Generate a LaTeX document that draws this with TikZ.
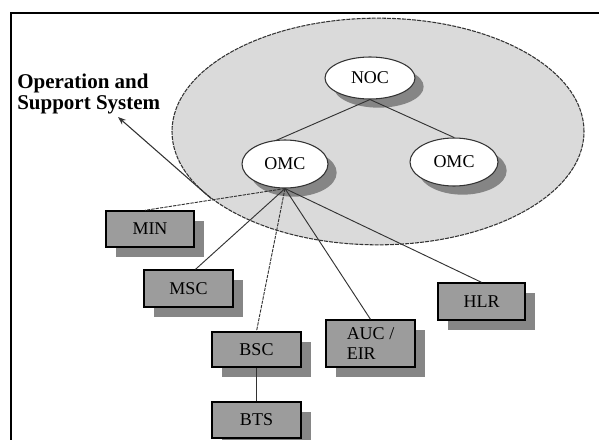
\documentclass[tikz,border=0pt]{standalone}
\usepackage{fontspec}
\setmainfont{Liberation Serif}
\usetikzlibrary{shapes.geometric,shadows,calc,arrows.meta}
\definecolor{ovalgray}{HTML}{DADADA}
\definecolor{boxgray}{HTML}{9C9C9C}
\definecolor{boxshadow}{HTML}{868686}
\definecolor{ellshadow}{HTML}{858585}
\definecolor{linegray}{HTML}{333333}
\begin{document}
\begin{tikzpicture}[x=0.75pt,y=-0.75pt,
  bigoval/.style={ellipse, draw=linegray, line width=0.8pt, dash pattern=on 3pt off 0.8pt, fill=ovalgray, inner sep=0},
  oval/.style={ellipse, draw=linegray, line width=0.8pt, fill=white, inner sep=0,
    font=\fontsize{13.5}{15}\selectfont,
    drop shadow={shadow xshift=6.5pt, shadow yshift=-6.5pt, fill=ellshadow, opacity=1}},
  box/.style={rectangle, draw=black, line width=1pt, fill=boxgray, inner sep=0,
    font=\fontsize{13.5}{15}\selectfont,
    drop shadow={shadow xshift=7.5pt, shadow yshift=-7.5pt, fill=boxshadow, opacity=1}},
  link/.style={draw=linegray, line width=0.7pt},
  dlink/.style={draw=linegray, line width=0.7pt, dash pattern=on 2.5pt off 0.8pt}]
\useasboundingbox (0,0) rectangle (599,439);
\fill[white] (0,0) rectangle (599,439);
% frame
\draw[black, line width=1.5pt] (11,440) -- (11,13) -- (600,13);
% big oval
\node[bigoval, minimum width=309pt, minimum height=170pt] (oss) at (378,131.5) {};
% small ovals
\node[oval, minimum width=67.5pt, minimum height=31.5pt] (noc) at (370,78) {NOC};
\node[oval, minimum width=64.5pt, minimum height=36pt] (omcL) at (285,164) {OMC};
\node[oval, minimum width=66pt, minimum height=36pt] (omcR) at (454,162) {OMC};
% boxes
\node[box, minimum width=66pt, minimum height=27pt] (min) at (150,229) {MIN};
\node[box, minimum width=66.75pt, minimum height=27.75pt] (msc) at (188.5,288.5) {MSC};
\node[box, minimum width=66.75pt, minimum height=26.25pt] (bsc) at (256.5,349.5) {BSC};
\node[box, minimum width=66.75pt, minimum height=27pt] (bts) at (256.5,420) {BTS};
\node[box, minimum width=66.75pt, minimum height=35.25pt, align=left,
  font=\fontsize{13.5}{15}\selectfont] (auc) at (370.5,343.5) {AUC /\\EIR};
\node[box, minimum width=65.25pt, minimum height=27.75pt] (hlr) at (481.5,301.5) {HLR};
% connectors
\draw[link] (noc.south) -- ($(omcL.north)+(-9,1)$);
\draw[link] (noc.south) -- (omcR.north);
\draw[dlink] (omcL.south) -- ($(min.north)+(-5,0)$);
\draw[link] (omcL.south) -- ($(msc.north)+(7,0)$);
\draw[dlink] (omcL.south) -- (bsc.north);
\draw[link] (omcL.south) -- (auc.north);
\draw[link] (omcL.south) -- (hlr.north);
\draw[link] (bsc.south) -- (bts.north);
% label and arrow
\node[anchor=north west, inner sep=0, align=left,
  font=\bfseries\fontsize{15.75}{16}\selectfont] (osslabel) at (17,73.5) {Operation and\\Support System};
\coordinate (osstip) at (118,117);
\draw[linegray, line width=0.8pt, -{Stealth[length=6pt,width=4.5pt]}] (oss.202) -- (osstip);
\end{tikzpicture}
\end{document}
